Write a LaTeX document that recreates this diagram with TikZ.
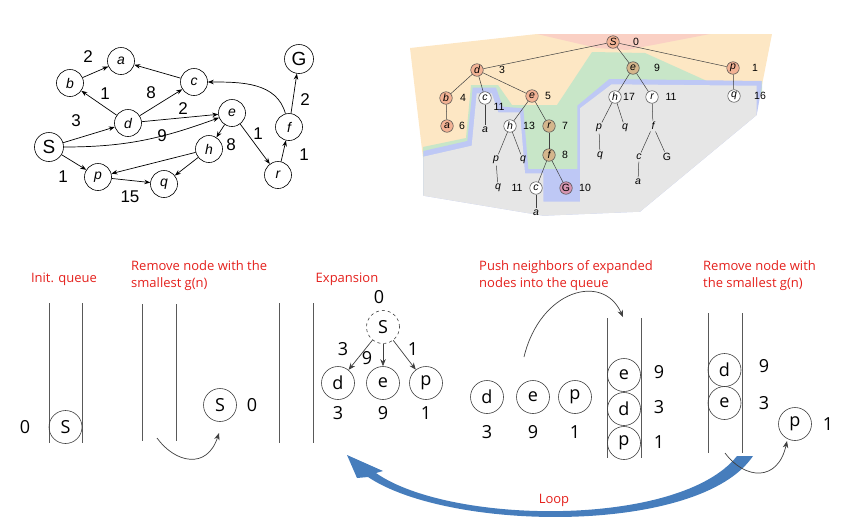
\documentclass[tikz,border=0pt]{standalone}
\usepackage{fontspec}
\setmainfont{Open Sans}
\newfontfamily\arialf{Liberation Sans}
\usetikzlibrary{arrows.meta}
\definecolor{lred}{RGB}{228,32,28}
\definecolor{loopblue}{RGB}{70,125,188}
\definecolor{peach}{RGB}{253,231,196}
\definecolor{pinkbg}{RGB}{250,208,196}
\definecolor{greenbg}{RGB}{200,230,200}
\definecolor{bluebg}{RGB}{190,200,245}
\definecolor{graybg}{RGB}{230,230,230}
\definecolor{salmon}{RGB}{242,178,148}
\definecolor{tanf}{RGB}{212,182,140}
\definecolor{gpur}{RGB}{214,150,178}
\begin{document}
\begin{tikzpicture}[x=1pt,y=1pt,
 gnode/.style={circle,draw,line width=0.6pt,minimum size=27pt,inner sep=0pt,font=\arialf\itshape\fontsize{14}{14}\selectfont},
 gbig/.style={circle,draw,line width=0.6pt,minimum size=29pt,inner sep=0pt,font=\arialf\fontsize{19}{19}\selectfont},
 gw/.style={font=\arialf\fontsize{17}{17}\selectfont,inner sep=0pt},
 garr/.style={-{Stealth[length=6pt,width=4.5pt]},line width=0.7pt},
 tn/.style={circle,draw=black!70,line width=0.5pt,minimum size=12.5pt,inner sep=0pt,font=\arialf\itshape\fontsize{10.5}{10.5}\selectfont},
 tt/.style={inner sep=1.5pt,font=\arialf\itshape\fontsize{10.5}{10.5}\selectfont},
 tnum/.style={inner sep=0pt,font=\arialf\fontsize{10.5}{10.5}\selectfont},
 tedge/.style={draw=black!75,line width=0.5pt},
 qn/.style={circle,draw=black!75,line width=0.6pt,minimum size=33pt,inner sep=0pt,font=\fontsize{18}{18}\selectfont},
 qnum/.style={inner sep=0pt,font=\fontsize{18}{18}\selectfont},
 lab/.style={text=lred,font=\fontsize{13}{17}\selectfont,align=left,inner sep=0pt},
 qline/.style={draw=black!65,line width=0.8pt},
 carr/.style={-{Stealth[length=7pt,width=5.5pt]},draw=black!75,line width=0.7pt}
]
\useasboundingbox (0,0) rectangle (844,-528);

% ---------------- top-left graph ----------------
\node[gbig] (gS) at (49,-147) {S};
\node[gbig] (gG) at (299,-59) {G};
\node[gnode] (ga) at (121,-61) {a};
\node[gnode] (gb) at (70,-83) {b};
\node[gnode] (gc) at (194,-82) {c};
\node[gnode] (gd) at (128,-123) {d};
\node[gnode] (ge) at (232,-113) {e};
\node[gnode] (gh) at (209,-149) {h};
\node[gnode] (gp) at (98,-177) {p};
\node[gnode] (gq) at (164,-184) {q};
\node[gnode] (gr) at (278,-175) {r};
\node[gnode] (gf) at (289,-127) {f};

\draw[garr] (gb) -- (ga);
\draw[garr] (gd) -- (gb);
\draw[garr] (gd) -- (gc);
\draw[garr] (gc) -- (ga);
\draw[garr] (gd) -- (ge);
\draw[garr] (gS) -- (gd);
\draw[garr] (gS) to[out=0,in=200] (ge);
\draw[garr] (ge) -- (gh);
\draw[garr] (ge) -- (gr);
\draw[garr] (gh) -- (gp);
\draw[garr] (gh) -- (gq);
\draw[garr] (gS) -- (gp);
\draw[garr] (gp) -- (gq);
\draw[garr] (gr) -- (gf);
\draw[garr] (gf) -- (gG);
\draw[garr] (gf) to[out=105,in=0] (gc);

\node[gw] (w1) at (88,-57) {2};
\node[gw] (w2) at (105,-94) {1};
\node[gw] (w3) at (151,-93) {8};
\node[gw] (w4) at (183,-109) {2};
\node[gw] (w5) at (76,-121) {3};
\node[gw] (w6) at (162,-136) {9};
\node[gw] (w7) at (231,-145) {8};
\node[gw] (w8) at (258,-134) {1};
\node[gw] (w9) at (305,-100) {2};
\node[gw] (w10) at (304,-155) {1};
\node[gw] (w11) at (63,-177) {1};
\node[gw] (w12) at (130,-197) {15};

% ---------------- top-right search tree ----------------
\fill[peach] (410,-48) -- (537,-34) -- (772,-34) -- (762,-85) -- (423,-158) -- cycle;
\fill[greenbg] (423,-147) -- (466,-138) -- (471,-85) -- (498,-85) -- (512,-105) -- (557,-105) -- (592,-52) -- (645,-53) -- (707,-81) -- (762,-81) -- (762,-92) -- (640,-211) -- (543,-215) -- (423,-195) -- cycle;
\fill[pinkbg] (537,-34) -- (710,-34) -- (627,-50) -- (597,-48) -- cycle;
\fill[bluebg] (423.3,-151) -- (467.3,-141) -- (472.7,-87.7) -- (496,-87.7) -- (502.7,-106.7) -- (523.3,-108.3) -- (528.3,-169) -- (577.3,-169) -- (577.3,-105.7) -- (609.3,-79) -- (761.7,-81) -- (761.7,-86.7) -- (756.7,-115) -- (640,-211.7) -- (543.3,-215.7) -- (423.3,-195.7) -- cycle;
\fill[graybg] (423.3,-156.7) -- (471.7,-145.7) -- (476.7,-93.3) -- (491.7,-93.3) -- (498.3,-112.3) -- (520,-112.3) -- (525,-173.3) -- (543.3,-173.3) -- (543.3,-201.7) -- (580,-201.7) -- (580,-108.3) -- (611.7,-84.3) -- (756.7,-85.7) -- (756.7,-115) -- (640,-211.7) -- (543.3,-215.7) -- (423.3,-195.7) -- cycle;

\node[tn,fill=salmon] (tS) at (613,-42) {S};
\node[tn,fill=salmon] (td) at (477,-70) {d};
\node[tn,fill=tanf] (te9) at (633,-68) {e};
\node[tn,fill=salmon] (tp1) at (733,-68) {p};
\node[tn,fill=salmon] (tb) at (446,-98) {b};
\node[tn,fill=white] (tc1) at (485,-98) {c};
\node[tn,fill=salmon] (te5) at (532,-96) {e};
\node[tn,fill=white] (th17) at (615,-97) {h};
\node[tn,fill=white] (tr11) at (652,-97) {r};
\node[tn,fill=white] (tq16) at (734,-96) {q};
\node[tn,fill=salmon] (ta6) at (447,-126) {a};
\node[tt] (xa1) at (485,-130) {a};
\node[tn,fill=white] (th13) at (510,-126) {h};
\node[tn,fill=tanf] (tr7) at (549,-126) {r};
\node[tt] (xp1) at (599,-128) {p};
\node[tt] (xq1) at (625,-128) {q};
\node[tt] (xf1) at (653,-126) {f};
\node[tt] (xp2) at (496,-160) {p};
\node[tt] (xq2) at (523,-160) {q};
\node[tn,fill=tanf] (tf8) at (549,-155) {f};
\node[tt] (xq3) at (600,-156) {q};
\node[tt] (xc1) at (639,-157) {c};
\node[tt,font=\arialf\fontsize{10.5}{10.5}\selectfont] (xG1) at (667,-157) {G};
\node[tt] (xq4) at (498,-188) {q};
\node[tn,fill=white] (tc2) at (536,-188) {c};
\node[tn,fill=gpur,font=\arialf\fontsize{10.5}{10.5}\selectfont] (tG) at (566,-188) {G};
\node[tt] (xa2) at (638,-182) {a};
\node[tt] (xa3) at (536,-213) {a};

\node[tnum] (n0) at (636,-42) {0};
\node[tnum] (n3) at (502,-70) {3};
\node[tnum] (n9) at (657,-68) {9};
\node[tnum] (n1) at (755,-68) {1};
\node[tnum] (n4) at (463,-98) {4};
\node[tnum] (n11a) at (499,-107) {11};
\node[tnum] (n5) at (548,-96) {5};
\node[tnum] (n17) at (629,-97) {17};
\node[tnum] (n11b) at (671,-97) {11};
\node[tnum] (n16) at (760,-96) {16};
\node[tnum] (n6) at (462,-126) {6};
\node[tnum] (n13) at (529,-126) {13};
\node[tnum] (n7) at (565,-126) {7};
\node[tnum] (n8) at (565,-155) {8};
\node[tnum] (n11c) at (517,-188) {11};
\node[tnum] (n10) at (585,-188) {10};

\foreach \u/\v in {tS/td,tS/te9,tS/tp1,td/tb,td/tc1,td/te5,tb/ta6,tc1/xa1,te5/th13,te5/tr7,th13/xp2,th13/xq2,xp2/xq4,tr7/tf8,tf8/tc2,tf8/tG,tc2/xa3,te9/th17,te9/tr11,th17/xp1,th17/xq1,xp1/xq3,tr11/xf1,xf1/xc1,xf1/xG1,xc1/xa2,tp1/tq16}
  \draw[tedge] (\u) -- (\v);

% ---------------- bottom: steps ----------------
\node[lab,anchor=center] (L1) at (64,-279) {Init. queue};
\node[lab,anchor=west] (L2) at (131,-275.5) {Remove node with the\\smallest g(n)};
\node[lab,anchor=center] (L3) at (347,-279) {Expansion};
\node[lab,anchor=west] (L4) at (479,-275.5) {Push neighbors of expanded\\nodes into the queue};
\node[lab,anchor=west] (L5) at (703,-275.5) {Remove node with\\the smallest g(n)};

% panel 1
\draw[qline] (49,-303) -- (49,-443);
\draw[qline] (82,-303) -- (82,-443);
\node[qn] (S1) at (65.5,-427) {S};
\node[qnum] (S1n) at (25,-427) {0};

% panel 2
\draw[qline] (142,-304) -- (142,-441);
\draw[qline] (176,-304) -- (176,-441);
\node[qn] (S2) at (220,-405) {S};
\node[qnum] (S2n) at (252,-405) {0};
\coordinate (a2s) at (157,-438);
\coordinate (a2e) at (219,-433);
\draw[carr] (a2s) .. controls (175,-463) and (207,-470) .. (a2e);

% panel 3
\draw[qline] (279,-303) -- (279,-443);
\draw[qline] (313,-303) -- (313,-443);
\node[qn,dashed] (S3) at (383,-327) {S};
\node[qnum] (S3n) at (379,-297) {0};
\node[qn] (d3) at (338,-383) {d};
\node[qn] (e3) at (383,-383) {e};
\node[qn] (p3) at (426,-383) {p};
\node[qnum] (d3n) at (338,-413) {3};
\node[qnum] (e3n) at (383,-413) {9};
\node[qnum] (p3n) at (426,-413) {1};
\draw[carr] (S3) -- (d3);
\draw[carr] (S3) -- (e3);
\draw[carr] (S3) -- (p3);
\node[qnum] (x3) at (343,-349) {3};
\node[qnum] (x9) at (367,-358) {9};
\node[qnum] (x1) at (413,-349) {1};

% panel 4
\node[qn] (d4) at (487,-397) {d};
\node[qn] (e4) at (533,-397) {e};
\node[qn] (p4) at (575,-397) {p};
\node[qnum] (d4n) at (487,-432) {3};
\node[qnum] (e4n) at (533,-432) {9};
\node[qnum] (p4n) at (575,-432) {1};
\draw[qline] (607,-318) -- (607,-458);
\draw[qline] (641,-318) -- (641,-458);
\node[qn] (qe4) at (624,-375) {e};
\node[qn] (qd4) at (624,-409) {d};
\node[qn] (qp4) at (624,-443) {p};
\node[qnum] (qe4n) at (659,-372) {9};
\node[qnum] (qd4n) at (659,-407) {3};
\node[qnum] (qp4n) at (659,-442) {1};
\coordinate (a4s) at (524,-357);
\coordinate (a4e) at (623,-317);
\draw[carr] (a4s) .. controls (540,-290) and (603,-272) .. (a4e);

% panel 5
\draw[qline] (708,-313) -- (708,-453);
\draw[qline] (742,-313) -- (742,-453);
\node[qn] (d5) at (724.5,-370) {d};
\node[qn] (e5) at (724.5,-403) {e};
\node[qnum] (d5n) at (764,-366) {9};
\node[qnum] (e5n) at (764,-403) {3};
\node[qn] (p5) at (795,-424) {p};
\node[qnum] (p5n) at (828,-424) {1};

% loop arrow
\fill[loopblue] (753,-456) .. controls (700,-535) and (450,-532) .. (368,-477)
  -- (357,-478) -- (347,-455) -- (383,-471) -- (376,-473)
  .. controls (450,-525) and (680,-528) .. (737,-456) -- cycle;
\node[lab,anchor=center] (Lp) at (554,-500) {Loop};

\coordinate (a5s) at (725,-453);
\coordinate (a5e) at (787,-441);
\draw[carr] (a5s) .. controls (745,-480) and (778,-482) .. (a5e);
\end{tikzpicture}
\end{document}
